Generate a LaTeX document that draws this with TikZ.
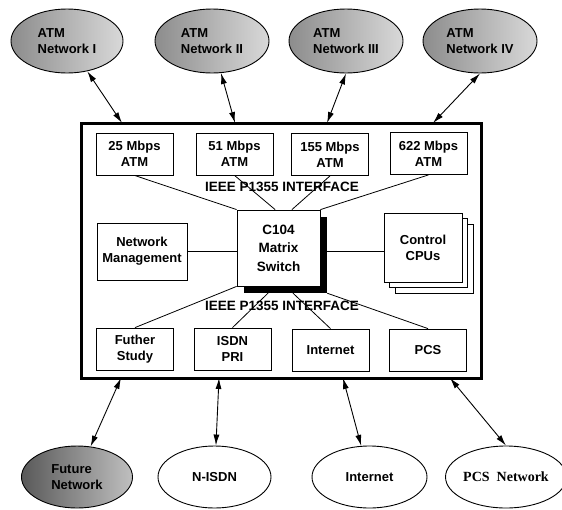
\documentclass[tikz,border=0pt]{standalone}
\usepackage{fontspec}
\setmainfont{Liberation Sans}
\newfontfamily\pcsfont{Liberation Serif}
\usetikzlibrary{shapes.geometric,arrows.meta,calc}

\tikzset{
  unitbox/.style={draw,line width=0.8pt,fill=white,minimum width=77pt,minimum height=42pt,
    inner sep=0pt,align=center,font=\bfseries\fontsize{13}{16}\selectfont},
  netnode/.style={ellipse,draw,line width=0.9pt,minimum width=112pt,minimum height=64pt,
    inner sep=0pt,font=\bfseries\fontsize{13}{16.5}\selectfont},
  greynet/.style={netnode,align=left,left color=black!45,right color=black!15},
  biarrow/.style={{Latex[length=11pt,width=6pt]}-{Latex[length=11pt,width=6pt]},line width=0.9pt},
  link/.style={line width=0.8pt}
}

\begin{document}
\begin{tikzpicture}[x=1pt,y=-1pt]
\useasboundingbox (0,0) rectangle (562,509);

%draws the ATM networks on top
\node[greynet] (atmI) at (67,41) {ATM\\Network I};
\node[greynet,minimum width=114pt] (atmII) at (212,41) {ATM\\Network II};
\node[greynet,minimum width=114pt] (atmIII) at (346,41) {ATM\\Network III};
\node[greynet,minimum width=114pt] (atmIV) at (480,41) {ATM\\Network IV};

%draws the networks below
\node[greynet,minimum width=111pt,minimum height=62pt,left color=black!65,right color=black!25] (futnet) at (77,477) {Future\\Network};
\node[netnode,minimum width=113pt,minimum height=62pt] (isdnnet) at (214.5,477) {N-ISDN};
\node[netnode,minimum width=115pt,minimum height=62pt] (inetnet) at (369.5,477) {Internet};
\node[netnode,minimum width=106pt,minimum height=62pt,font=\pcsfont\bfseries\fontsize{14}{16}\selectfont] (pcsnet) at (506,477) {PCS\ \ Network};

%draws outer frame
\draw[line width=3pt] (81,123) rectangle (481,378);
\coordinate (inI) at (122,123);
\coordinate (inII) at (235,123);
\coordinate (inIII) at (327,123);
\coordinate (inIV) at (433,123);
\coordinate (outfut) at (121,378);
\coordinate (outisdn) at (219,378);
\coordinate (outinet) at (343,378);
\coordinate (outpcs) at (450,378);

%draws the port boxes
\node[unitbox] (mb25) at (134.5,154) {25 Mbps\\ATM};
\node[unitbox] (mb51) at (234.5,154) {51 Mbps\\ATM};
\node[unitbox] (mb155) at (330,154.5) {155 Mbps\\ATM};
\node[unitbox] (mb622) at (428.5,153.5) {622 Mbps\\ATM};
\node[unitbox] (futher) at (135,349) {Futher\\Study};
\node[unitbox] (isdnpri) at (232.5,349) {ISDN\\PRI};
\node[unitbox] (inetbox) at (330.5,350) {Internet};
\node[unitbox] (pcsbox) at (428,350) {PCS};

%draws switch with its shadow
\node[fill=black,minimum width=83pt,minimum height=76pt,inner sep=0pt] (shadow) at (285.5,255) {};
\node[unitbox,minimum width=83pt,minimum height=76pt,font=\bfseries\fontsize{13.5}{18.5}\selectfont] (switch) at (278.5,248) {C104\\Matrix\\Switch};

%draws management and cpus
\node[unitbox,minimum width=90pt,minimum height=57pt] (netman) at (142,251.5) {Network\\Management};
\node[unitbox,minimum width=78pt,minimum height=69pt] (cpuc) at (434,258.5) {};
\node[unitbox,minimum width=78pt,minimum height=69pt] (cpub) at (428.5,253) {};
\node[unitbox,minimum width=78pt,minimum height=69pt] (cpus) at (423,247.5) {Control\\CPUs};

%interface labels
\node[font=\bfseries\fontsize{13.5}{16}\selectfont] (ifup) at (282,187) {IEEE P1355 INTERFACE};
\node[font=\bfseries\fontsize{13.5}{16}\selectfont] (ifdown) at (282,306) {IEEE P1355 INTERFACE};

%connect ports to switch
\draw[link] (mb25.south) -- (switch.north west);
\draw[link] (mb51.south) -- ($(switch.north west)!0.46!(switch.north east)$);
\draw[link] (mb155.south) -- ($(switch.north west)!0.66!(switch.north east)$);
\draw[link] (mb622.south) -- (switch.north east);
\draw[link] (futher.north) -- (switch.south west);
\draw[link] (isdnpri.north) -- ($(shadow.south west)!0.29!(shadow.south east)$);
\draw[link] (inetbox.north) -- ($(shadow.south west)!0.59!(shadow.south east)$);
\draw[link] (pcsbox.north) -- (shadow.south east);
\draw[link] (netman.east) -- (netman.east -| switch.west);
\draw[link] (switch.east |- netman.east) -- (cpus.west |- netman.east);

%arrows to the networks
\draw[biarrow] (atmI) -- (inI);
\draw[biarrow] (atmII) -- (inII);
\draw[biarrow] (atmIII.south) -- (inIII);
\draw[biarrow] (atmIV.south) -- (inIV);
\draw[biarrow] (futnet) -- (outfut);
\draw[biarrow] (isdnnet) -- (outisdn);
\draw[biarrow] (inetnet) -- (outinet);
\draw[biarrow] (pcsnet.north) -- (outpcs);
\end{tikzpicture}
\end{document}
